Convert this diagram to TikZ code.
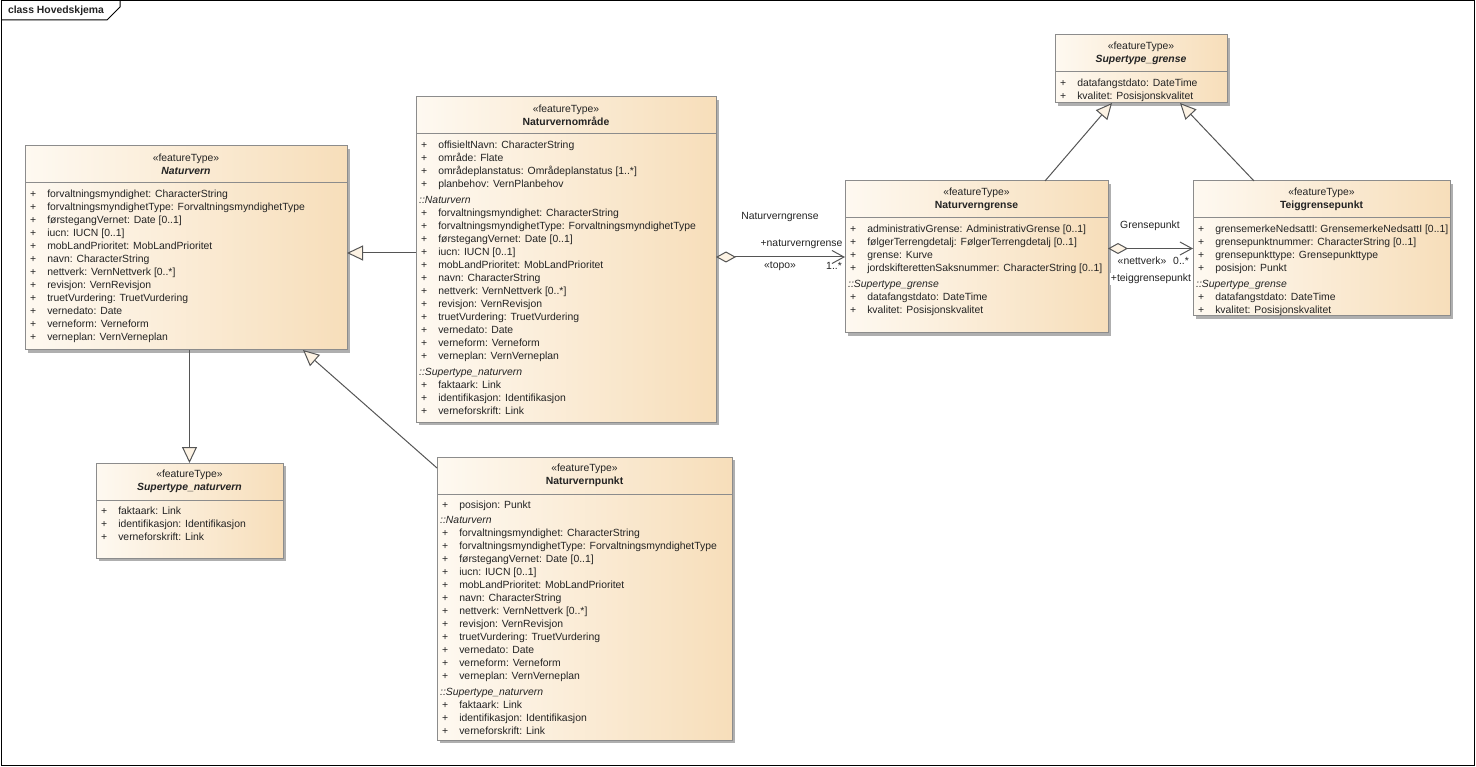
\documentclass[tikz,border=0pt]{standalone}
\usepackage{fontspec}
\setmainfont{Liberation Sans}
\usetikzlibrary{arrows.meta,shadows,positioning}
\definecolor{lysbeige}{RGB}{254, 249, 241}
\definecolor{beige}{RGB}{247, 222, 186}
\definecolor{kantgraa}{RGB}{140, 140, 140}
\definecolor{skyggegraa}{RGB}{175, 175, 175}
\definecolor{linjegraa}{RGB}{85, 85, 85}
\definecolor{pilfyll}{RGB}{253, 243, 228}
\definecolor{tekstfarge}{RGB}{35, 35, 35}

\newcommand{\naturvernrader}{%
+ & forvaltningsmyndighet: CharacterString\\
+ & forvaltningsmyndighetType: ForvaltningsmyndighetType\\
+ & førstegangVernet: Date [0..1]\\
+ & iucn: IUCN [0..1]\\
+ & mobLandPrioritet: MobLandPrioritet\\
+ & navn: CharacterString\\
+ & nettverk: VernNettverk [0..*]\\
+ & revisjon: VernRevisjon\\
+ & truetVurdering: TruetVurdering\\
+ & vernedato: Date\\
+ & verneform: Verneform\\
+ & verneplan: VernVerneplan}
\newcommand{\supernaturvernrader}{%
+ & faktaark: Link\\
+ & identifikasjon: Identifikasjon\\
+ & verneforskrift: Link}
\newcommand{\supergrenserader}{%
+ & datafangstdato: DateTime\\
+ & kvalitet: Posisjonskvalitet}
\newcommand{\felt}[1]{\textit{::#1}}

\begin{document}
\begin{tikzpicture}[
        x=1pt, y=-1pt,
        every node/.style={font=\fontsize{10.4}{13}\selectfont, text=tekstfarge},
        klasse/.style={
            draw=kantgraa, line width=1pt,
            left color=lysbeige, right color=beige,
            anchor=north west, inner sep=0pt, outer sep=0pt,
            drop shadow={shadow xshift=3pt, shadow yshift=-3pt,
                fill=skyggegraa, opacity=1}
        },
        hode/.style={align=center, inner sep=0pt},
        attr/.style={anchor=north west, inner sep=0pt},
        skille/.style={draw=kantgraa, line width=1pt},
        arv/.style={draw=linjegraa, line width=1pt,
            -{Triangle[length=16pt, width=15pt, fill=pilfyll]}},
        aggr/.style={draw=linjegraa, line width=1pt,
            {Diamond[length=20pt, width=11pt, fill=pilfyll]}-{Straight Barb[length=12pt, width=13pt]}},
        rolle/.style={inner sep=1pt}
    ]
    \useasboundingbox (0,0) rectangle (1476,767);

    % ramme
    \draw[line width=1pt] (1,1) rectangle (1474,765);
    \draw[line width=1pt] (1,20) -- (107,20) -- (120,7) -- (120,1);
    \node[font=\fontsize{10.4}{13}\selectfont\bfseries] (tittel) at (56,11) {class Hovedskjema};

    % klasser
    \node[klasse, minimum width=322pt, minimum height=204pt] (nv) at (25,146) {};
    \node[klasse, minimum width=300pt, minimum height=325pt] (nvo) at (416,97) {};
    \node[klasse, minimum width=263pt, minimum height=152pt] (nvg) at (845,181) {};
    \node[klasse, minimum width=257pt, minimum height=135pt] (tgp) at (1193,181) {};
    \node[klasse, minimum width=172pt, minimum height=68pt] (sg) at (1055,35) {};
    \node[klasse, minimum width=187pt, minimum height=95pt] (snv) at (96,463) {};
    \node[klasse, minimum width=295pt, minimum height=283pt] (nvp) at (437,457) {};

    \foreach \k in {nv,nvo,nvg,tgp,sg,snv,nvp}
        \draw[skille] ([yshift=-37pt]\k.north west) -- ([yshift=-37pt]\k.north east);

    \node[hode] at ([yshift=-18.5pt]nv.north) {«featureType»\\\textbf{\textit{Naturvern}}};
    \node[hode] at ([yshift=-18.5pt]nvo.north) {«featureType»\\\textbf{Naturvernområde}};
    \node[hode] at ([yshift=-18.5pt]nvg.north) {«featureType»\\\textbf{Naturverngrense}};
    \node[hode] at ([yshift=-18.5pt]tgp.north) {«featureType»\\\textbf{Teiggrensepunkt}};
    \node[hode] at ([yshift=-18.5pt]sg.north) {«featureType»\\\textbf{\textit{Supertype\_grense}}};
    \node[hode] at ([yshift=-18.5pt]snv.north) {«featureType»\\\textbf{\textit{Supertype\_naturvern}}};
    \node[hode] at ([yshift=-18.5pt]nvp.north) {«featureType»\\\textbf{Naturvernpunkt}};

    \node[attr] at ([xshift=3pt, yshift=-42pt]nv.north west) {%
        \begin{tabular}{@{\hspace{2pt}}l@{\hspace{11pt}}l@{}}
        \naturvernrader
        \end{tabular}};
    \node[attr] at ([xshift=3pt, yshift=-42pt]nvo.north west) {%
        \begin{tabular}{@{\hspace{2pt}}l@{\hspace{11pt}}l@{}}
        + & offisieltNavn: CharacterString\\
        + & område: Flate\\
        + & områdeplanstatus: Områdeplanstatus [1..*]\\
        + & planbehov: VernPlanbehov\\[3pt]
        \multicolumn{2}{@{}l@{}}{\felt{Naturvern}}\\
        \naturvernrader\\[3pt]
        \multicolumn{2}{@{}l@{}}{\felt{Supertype\_naturvern}}\\
        \supernaturvernrader
        \end{tabular}};
    \node[attr] at ([xshift=3pt, yshift=-42pt]nvg.north west) {%
        \begin{tabular}{@{\hspace{2pt}}l@{\hspace{11pt}}l@{}}
        + & administrativGrense: AdministrativGrense [0..1]\\
        + & følgerTerrengdetalj: FølgerTerrengdetalj [0..1]\\
        + & grense: Kurve\\
        + & jordskifterettenSaksnummer: CharacterString [0..1]\\[3pt]
        \multicolumn{2}{@{}l@{}}{\felt{Supertype\_grense}}\\
        \supergrenserader
        \end{tabular}};
    \node[attr] at ([xshift=3pt, yshift=-42pt]tgp.north west) {%
        \begin{tabular}{@{\hspace{2pt}}l@{\hspace{11pt}}l@{}}
        + & grensemerkeNedsattI: GrensemerkeNedsattI [0..1]\\
        + & grensepunktnummer: CharacterString [0..1]\\
        + & grensepunkttype: Grensepunkttype\\
        + & posisjon: Punkt\\[3pt]
        \multicolumn{2}{@{}l@{}}{\felt{Supertype\_grense}}\\
        \supergrenserader
        \end{tabular}};
    \node[attr] at ([xshift=3pt, yshift=-42pt]sg.north west) {%
        \begin{tabular}{@{\hspace{2pt}}l@{\hspace{11pt}}l@{}}
        \supergrenserader
        \end{tabular}};
    \node[attr] at ([xshift=3pt, yshift=-42pt]snv.north west) {%
        \begin{tabular}{@{\hspace{2pt}}l@{\hspace{11pt}}l@{}}
        \supernaturvernrader
        \end{tabular}};
    \node[attr] at ([xshift=3pt, yshift=-42pt]nvp.north west) {%
        \begin{tabular}{@{\hspace{2pt}}l@{\hspace{11pt}}l@{}}
        + & posisjon: Punkt\\[2pt]
        \multicolumn{2}{@{}l@{}}{\felt{Naturvern}}\\
        \naturvernrader\\[3pt]
        \multicolumn{2}{@{}l@{}}{\felt{Supertype\_naturvern}}\\
        \supernaturvernrader
        \end{tabular}};

    % generaliseringer
    \draw[arv] ([yshift=-5pt]nv.east -| nvo.west) -- ([yshift=-5pt]nv.east);
    \draw[arv] (snv.north |- nv.south) -- (snv.north);
    \draw[arv] ([yshift=-11pt]nvp.north west) -- ([xshift=117pt]nv.south);
    \draw[arv] ([xshift=68.5pt]nvg.north) -- ([xshift=-29pt]sg.south);
    \draw[arv] ([xshift=-67.5pt]tgp.north) -- ([xshift=39pt]sg.south);

    % aggregeringer
    \draw[aggr] (nvo.east |- nvg.west) --
        node[rolle, pos=0.496, yshift=40pt] {Naturverngrense}
        node[rolle, pos=0.663, yshift=13pt] {+naturverngrense}
        node[rolle, pos=0.496, yshift=-9pt] {«topo»}
        node[rolle, pos=0.915, yshift=-9pt] {1..*}
        (nvg.west);
    \draw[aggr] (nvg.east |- tgp.west) --
        node[rolle, pos=0.494, yshift=22.5pt] {Grensepunkt}
        node[rolle, pos=0.4, yshift=-12.5pt] {«nettverk»}
        node[rolle, pos=0.859, yshift=-12.5pt] {0..*}
        node[rolle, pos=0.506, yshift=-30.5pt, fill=white] {+teiggrensepunkt}
        (tgp.west);
\end{tikzpicture}
\end{document}
